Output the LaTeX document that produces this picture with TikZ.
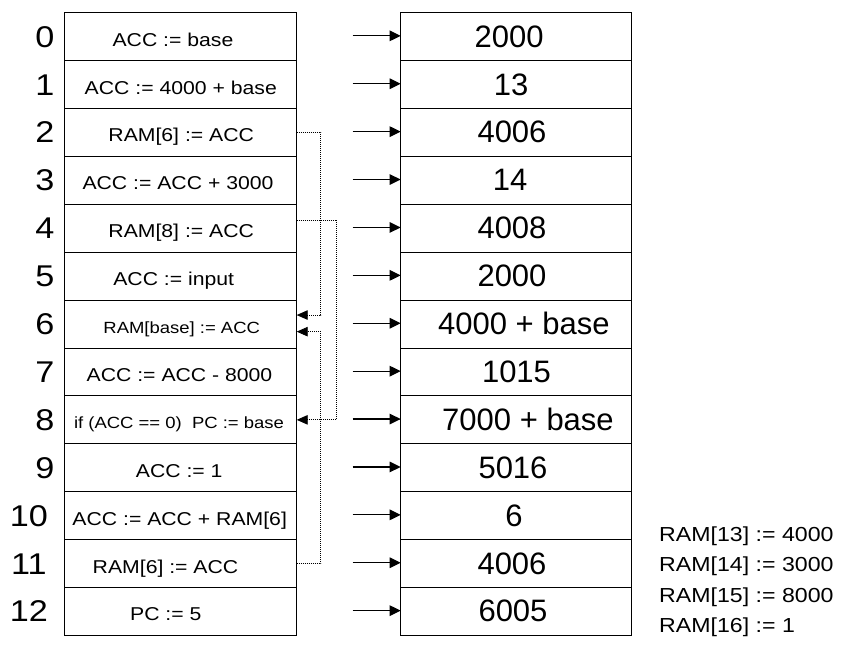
\documentclass[tikz,border=0pt]{standalone}
\usepackage{fontspec}
\setmainfont{Liberation Sans}
\newfontfamily\widesans[FakeStretch=1.14]{Liberation Sans}
\usetikzlibrary{arrows.meta,calc}

\tikzset{
  cell/.style={draw=black, line width=1pt, minimum width=232.4pt,
               minimum height=47.9pt, inner sep=0pt, outer sep=0pt},
  memcell/.style={cell, minimum width=231pt},
  instr/.style={anchor=base, inner sep=0pt, font=\widesans\fontsize{18.6}{20}\selectfont},
  instrsmall/.style={instr, font=\widesans\fontsize{16.2}{18}\selectfont},
  value/.style={anchor=base, inner sep=0pt, font=\fontsize{31}{33}\selectfont},
  addr/.style={anchor=base, inner sep=0pt, font=\widesans\fontsize{30}{32}\selectfont},
  note/.style={anchor=base west, inner sep=0pt, font=\widesans\fontsize{20.3}{22}\selectfont},
  feed/.style={line width=1.2pt, -{Triangle[length=11pt,width=10.5pt]}},
  jump/.style={line width=0.9pt, dash pattern=on 1pt off 1pt,
               -{Triangle[length=11pt,width=9.5pt]}}
}

\begin{document}
\begin{tikzpicture}[x=1pt,y=-1pt]
\useasboundingbox (0,0) rectangle (843,655);

% program cells, memory cells and the feed arrows between them
\foreach \r in {0,...,12} {
  \node[cell] (L\r) at (180.5,{36.65+47.9*\r}) {};
  \node[memcell] (R\r) at (516.2,{36.65+47.9*\r}) {};
  \coordinate (S\r) at (352.7,{36.65+47.9*\r-0.8});
  \draw[feed] (S\r) -- (S\r -| R\r.west);
}

% addresses
\foreach \r/\x in {0/45,1/45,2/45,3/45,4/45,5/45,6/45,7/45,8/45,9/45,10/29,11/29,12/29} {
  \node[addr] (N\r) at (\x,{36.65+47.9*\r+10.5}) {\r};
}

% instructions
\foreach \r/\x/\t in {0/173/ACC := base, 1/180.8/ACC := 4000 + base,
    2/181.2/RAM[6] := ACC, 3/178/ACC := ACC + 3000, 4/181.2/RAM[8] := ACC,
    5/173.7/ACC := input, 7/179.5/ACC := ACC - 8000, 9/179.2/ACC := 1,
    10/179.7/ACC := ACC + RAM[6], 11/165.5/RAM[6] := ACC, 12/165.8/PC := 5} {
  \node[instr] (T\r) at (\x,{36.65+47.9*\r+9.5}) {\t};
}
\node[instrsmall] (T6) at (181.7,{36.65+47.9*6+9.5}) {RAM[base] := ACC};
\node[instrsmall] (T8) at (179,{36.65+47.9*8+9}) {if (ACC == 0)\ \ PC := base};

% memory contents
\foreach \r/\x/\t in {0/509.2/2000, 1/511.2/13, 2/512/4006, 3/510/14,
    4/512/4008, 5/512/2000, 6/523.8/4000 + base, 7/516.5/1015,
    8/528/7000 + base, 9/513/5016, 10/514/6, 11/512/4006, 12/513/6005} {
  \node[value] (V\r) at (\x,{36.65+47.9*\r+10.5}) {\t};
}

% jump targets
\coordinate (C1) at (320.8,0);
\coordinate (C2) at (336.7,0);
\draw[jump] (L2.east) -- (L2.east -| C1) -- ($(L6.east -| C1)+(0,-9)$) -- ($(L6.east)+(0,-9)$);
\draw[jump] (L11.east) -- (L11.east -| C1) -- ($(L6.east -| C1)+(0,7.6)$) -- ($(L6.east)+(0,7.6)$);
\draw[jump] ($(L4.east)+(0,-8)$) -- ($(L4.east -| C2)+(0,-8)$) -- (L8.east -| C2) -- (L8.east);

% initial data
\node[note] (D13) at (659,541) {RAM[13] := 4000};
\node[note] (D14) at (659,571.7) {RAM[14] := 3000};
\node[note] (D15) at (659,602.3) {RAM[15] := 8000};
\node[note] (D16) at (659,632.7) {RAM[16] := 1};
\end{tikzpicture}
\end{document}
